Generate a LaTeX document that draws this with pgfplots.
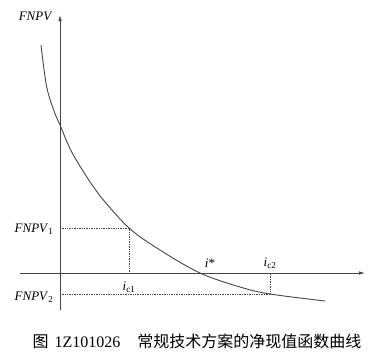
\documentclass[border=0pt]{standalone}
\usepackage{fontspec}
\setmainfont{Liberation Serif}
\newfontfamily\cjk{Noto Sans CJK SC}
\usepackage{pgfplots}
\pgfplotsset{compat=1.18}
\usetikzlibrary{arrows.meta}
\definecolor{ink}{HTML}{444444}
\definecolor{txt}{HTML}{333333}
\begin{document}
\begin{tikzpicture}
\begin{axis}[
  scale only axis, x=1pt, y=1pt,
  xmin=-60, xmax=322, ymin=-87, ymax=273,
  axis lines=none, clip=false,
  every node/.style={text=txt},
]
% bounding frame (invisible)
\addplot[draw=none] coordinates {(-60,-87) (322,273)};
% axes
\addplot[ink, line width=0.8pt, -{Latex[length=6pt,width=3.5pt]}] coordinates {(-40,0) (305,0)};
\addplot[ink, line width=0.8pt, -{Latex[length=6pt,width=3.5pt]}] coordinates {(0,-37) (0,258)};
% curve
\addplot[ink, line width=0.9pt, smooth, tension=0.55] coordinates {
(-19,228) (-13.5,187) (-6,162) (0,148) (11.7,121) (30,91) (40,77) (69,45)
(100,23) (140,0) (180,-14) (210,-21) (265,-28)};
% dotted guides
\addplot[ink, densely dotted, line width=0.7pt] coordinates {(0,45) (69,45) (69,0)};
\addplot[ink, densely dotted, line width=0.7pt] coordinates {(0,-21) (210,-21) (210,0)};
% labels
\node[font=\fontsize{13}{15}\selectfont\itshape] at (axis cs:-25,257) {FNPV};
\node[font=\fontsize{13}{15}\selectfont, anchor=east] at (axis cs:-3,44) {\textit{FNPV}\textsubscript{1}};
\node[font=\fontsize{13}{15}\selectfont, anchor=east] at (axis cs:-3,-24) {\textit{FNPV}\textsubscript{2}};
\node[font=\fontsize{13}{15}\selectfont] at (axis cs:69,-14) {\textit{i}\textsubscript{c1}};
\node[font=\fontsize{13}{15}\selectfont] at (axis cs:150,10) {\textit{i}*};
\node[font=\fontsize{13}{15}\selectfont] at (axis cs:210,10) {\textit{i}\textsubscript{c2}};
\node[font=\fontsize{16}{18}\selectfont] at (axis cs:137,-68) {{\cjk 图}\hspace{6pt}1Z101026\hspace{17pt}{\cjk 常规技术方案的净现值函数曲线}};
\end{axis}
\end{tikzpicture}
\end{document}
